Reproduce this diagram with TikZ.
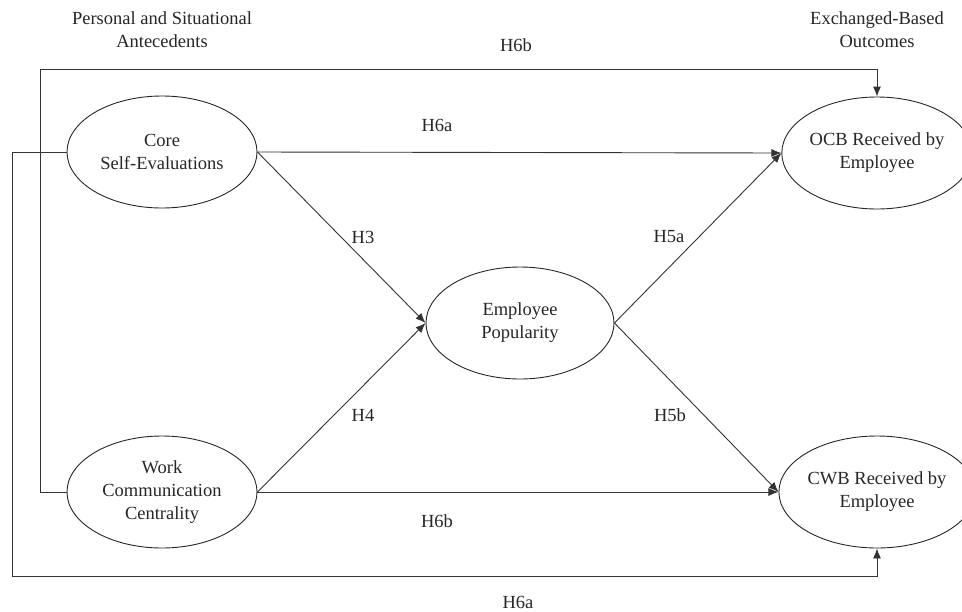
\documentclass[tikz,border=0pt]{standalone}
\usepackage{fontspec}
\setmainfont{Liberation Serif}
\usetikzlibrary{shapes.geometric,arrows.meta}
\begin{document}
\begin{tikzpicture}[x=1pt,y=-1pt,
  every node/.style={font=\fontsize{18.5}{23}\selectfont, text=black!85},
  var/.style={ellipse, draw=black!85, line width=0.9pt, minimum width=190pt, minimum height=112pt, inner sep=0pt, align=center},
  lbl/.style={inner sep=0pt, align=center},
  link/.style={draw=black!80, line width=0.9pt},
  arr/.style={link, -{Latex[length=10pt,width=8pt]}}]
\useasboundingbox (0,0) rectangle (962,611);
\begin{scope}
\clip (0,0) rectangle (962,611);
\node[var] (cse) at (162,152) {Core\\Self-Evaluations};
\node[var] (wcc) at (162,492) {Work\\Communication\\Centrality};
\node[var, minimum width=188pt] (pop) at (520,323) {Employee\\Popularity};
\node[var] (ocb) at (877,153) {OCB Received by\\Employee};
\node[var] (cwb) at (877,492) {CWB Received by\\Employee};
\end{scope}
\node[lbl] (hl) at (162,30) {Personal and Situational\\Antecedents};
\node[lbl] (hr) at (877,30) {Exchanged-Based\\Outcomes};
\coordinate (tl) at (40,69);
\coordinate (bl) at (12,576);
\draw[arr] (wcc.west) -| (tl) -| (ocb.north);
\draw[arr] (cse.west) -| (bl) -| (cwb.south);
\draw[arr] (cse.east) -- (ocb.west);
\draw[arr] (wcc.east) -- (cwb.west);
\draw[arr] (cse.east) -- (pop.west);
\draw[arr] (wcc.east) -- (pop.west);
\draw[arr] (pop.east) -- (ocb.west);
\draw[arr] (pop.east) -- (cwb.west);
\node[lbl] (h6btop) at (516,45) {H6b};
\node[lbl] (h6abot) at (518,602) {H6a};
\node[lbl] (h6a) at (437,125) {H6a};
\node[lbl] (h6b) at (437,521) {H6b};
\node[lbl] (h3) at (363,237) {H3};
\node[lbl] (h4) at (363,415) {H4};
\node[lbl] (h5a) at (669,237) {H5a};
\node[lbl] (h5b) at (670,415) {H5b};
\end{tikzpicture}
\end{document}
